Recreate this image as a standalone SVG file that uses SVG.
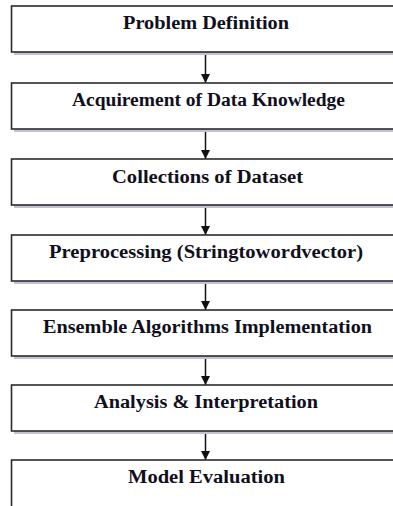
<svg xmlns="http://www.w3.org/2000/svg" width="393" height="506" viewBox="0 0 393 506">
  <style>
    .shadow { fill: #c4c1d4; }
    .box { fill: #ffffff; stroke: #2b2b2b; stroke-width: 1.6; }
    .label { font-family: "Liberation Serif", "Times New Roman", serif; font-weight: bold; font-size: 18px; fill: #10101c; text-anchor: middle; }
    .link { stroke: #111111; stroke-width: 1.5; fill: none; }
  </style>
  <defs>
    <marker id="arrow" viewBox="0 0 10 10" refX="10" refY="5" markerWidth="9" markerHeight="10" markerUnits="userSpaceOnUse" orient="auto">
      <path d="M0,0 L10,5 L0,10 Z" fill="#111111"/>
    </marker>
  </defs>
  <rect width="393" height="506" fill="#ffffff"/>

  <g id="connectors">
    <line class="link" x1="205.5" y1="52" x2="205.5" y2="83" marker-end="url(#arrow)"/>
    <line class="link" x1="205.5" y1="129" x2="205.5" y2="159" marker-end="url(#arrow)"/>
    <line class="link" x1="205.5" y1="205" x2="205.5" y2="235" marker-end="url(#arrow)"/>
    <line class="link" x1="205.5" y1="281" x2="205.5" y2="310" marker-end="url(#arrow)"/>
    <line class="link" x1="205.5" y1="356" x2="205.5" y2="385" marker-end="url(#arrow)"/>
    <line class="link" x1="205.5" y1="431" x2="205.5" y2="460" marker-end="url(#arrow)"/>
  </g>

  <g id="problem-definition">
    <rect class="shadow" x="14" y="9" width="390" height="46"/>
    <rect class="box" x="11.5" y="6" width="390" height="46"/>
    <text class="label" x="206" y="29" textLength="166" lengthAdjust="spacingAndGlyphs">Problem Definition</text>
  </g>

  <g id="data-knowledge">
    <rect class="shadow" x="14" y="86" width="390" height="46"/>
    <rect class="box" x="11.5" y="83" width="390" height="46"/>
    <text class="label" x="208.5" y="106" textLength="273" lengthAdjust="spacingAndGlyphs">Acquirement of Data Knowledge</text>
  </g>

  <g id="dataset-collection">
    <rect class="shadow" x="14" y="162" width="390" height="46"/>
    <rect class="box" x="11.5" y="159" width="390" height="46"/>
    <text class="label" x="207.5" y="182.5" textLength="191" lengthAdjust="spacingAndGlyphs">Collections of Dataset</text>
  </g>

  <g id="preprocessing">
    <rect class="shadow" x="14" y="238" width="390" height="46"/>
    <rect class="box" x="11.5" y="235" width="390" height="46"/>
    <text class="label" x="206" y="258" textLength="314" lengthAdjust="spacingAndGlyphs">Preprocessing (Stringtowordvector)</text>
  </g>

  <g id="ensemble-algorithms">
    <rect class="shadow" x="14" y="313" width="390" height="46"/>
    <rect class="box" x="11.5" y="310" width="390" height="46"/>
    <text class="label" x="207.5" y="333" textLength="329" lengthAdjust="spacingAndGlyphs">Ensemble Algorithms Implementation</text>
  </g>

  <g id="analysis-interpretation">
    <rect class="shadow" x="14" y="388" width="390" height="46"/>
    <rect class="box" x="11.5" y="385" width="390" height="46"/>
    <text class="label" x="206" y="408" textLength="224" lengthAdjust="spacingAndGlyphs">Analysis &amp; Interpretation</text>
  </g>

  <g id="model-evaluation">
    <rect class="box" x="11.5" y="460" width="390" height="60"/>
    <text class="label" x="206.5" y="483" textLength="157" lengthAdjust="spacingAndGlyphs">Model Evaluation</text>
  </g>
</svg>
